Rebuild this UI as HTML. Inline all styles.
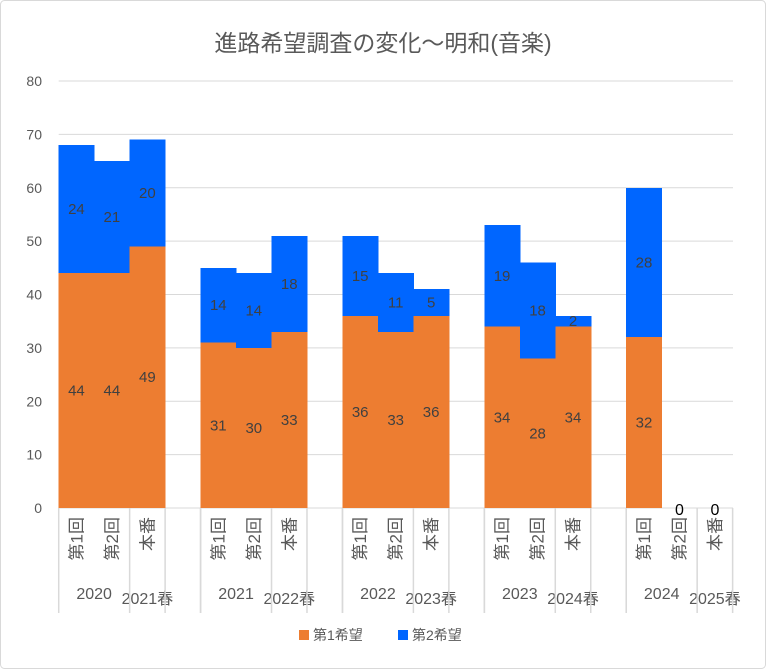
<!DOCTYPE html>
<html><head><meta charset="utf-8"><style>
body{margin:0;background:#fff;}
svg{display:block;font-family:"Liberation Sans","Noto Sans CJK JP",sans-serif;}
</style></head><body>
<svg id="chart" width="766" height="669" viewBox="0 0 766 669">
<rect x="0.5" y="0.5" width="765" height="668" rx="4" fill="#fff" stroke="#d9d9d9"/>
<text x="383" y="51" text-anchor="middle" font-size="23" fill="#595959">進路希望調査の変化～明和(音楽)</text>
<g id="grid"></g><g id="bars" shape-rendering="crispEdges"></g><g id="labels"></g><g id="axis"></g>
<g>
<rect x="299" y="630" width="10" height="10" fill="#ED7D31"/>
<text x="313" y="640" font-size="14" fill="#595959">第1希望</text>
<rect x="398" y="630" width="10" height="10" fill="#0066FF"/>
<text x="412" y="640" font-size="14" fill="#595959">第2希望</text>
</g>
</svg>
<script>
const categories=["第1回","第2回","本番","","第1回","第2回","本番","","第1回","第2回","本番","","第1回","第2回","本番","","第1回","第2回","本番"];
const years=["2020","2021","2022","2023","2024"];
const springs=["2021春","2022春","2023春","2024春","2025春"];
const first=[44,44,49,null,31,30,33,null,36,33,36,null,34,28,34,null,32,0,0];
const second=[24,21,20,null,14,14,18,null,15,11,5,null,19,18,2,null,28,0,0];
const yTicks=[0,10,20,30,40,50,60,70,80];
const NS="http://www.w3.org/2000/svg";
const x0=58.7,slot=35.47,yBase=508,yTop=81,yMax=80;
const y=v=>yBase-(v/yMax)*(yBase-yTop);
const sx=i=>x0+i*slot;
function mk(tag,attrs,parent,txt){const e=document.createElementNS(NS,tag);for(const k in attrs)e.setAttribute(k,attrs[k]);if(txt!==undefined)e.textContent=txt;document.getElementById(parent).appendChild(e);return e;}
yTicks.forEach(t=>{
 const l=mk('line',{x1:x0,x2:733,y1:y(t),y2:y(t),stroke:'#d9d9d9','stroke-width':1},'grid');
 
 
 const tx=mk('text',{x:42,y:y(t)+5,'text-anchor':'end','font-size':14,fill:'#595959'},'grid',String(t));
 
 
});
categories.forEach((c,i)=>{
 if(first[i]===null)return;
 const a=first[i],b=second[i];
 const r1=mk('rect',{x:sx(i),y:y(a),width:slot+0.5,height:y(0)-y(a),fill:'#ED7D31'},'bars');
 
 
 const r2=mk('rect',{x:sx(i),y:y(a+b),width:slot+0.5,height:y(a)-y(a+b),fill:'#0066FF'},'bars');
 
 
 const cx=sx(i)+slot/2;
 if(a>0){const t=mk('text',{x:cx,y:y(a/2)+5,'text-anchor':'middle','font-size':15,fill:'#404040'},'labels',String(a));
  
  }
 if(b>0){const t=mk('text',{x:cx,y:y(a+b/2)+5,'text-anchor':'middle','font-size':15,fill:'#404040'},'labels',String(b));
  
  }
 if(a===0&&b===0){const t=mk('text',{x:cx,y:515,'text-anchor':'middle','font-size':16,fill:'#000'},'labels','0');
  
  }
 const ct=mk('text',{x:0,y:0,'text-anchor':'end','font-size':17,fill:'#595959',transform:`translate(${cx+6},517) rotate(-90)`},'axis',c);
 
 
});
years.forEach((yr,g)=>{
 const t=mk('text',{x:sx(4*g+1),y:599,'text-anchor':'middle','font-size':16,fill:'#595959'},'axis',yr);
 
 
 const s=mk('text',{x:sx(4*g+2.5),y:604,'text-anchor':'middle','font-size':16,fill:'#595959'},'axis',springs[g]);
 
 
 [0,2,3,4].forEach(o=>{
  const k=4*g+o; if(k>19)return;
  const l=mk('line',{x1:sx(k),x2:sx(k),y1:508,y2:613,stroke:'#d9d9d9','stroke-width':1.5},'axis');
  
  
 });
});
</script>
</body></html>
